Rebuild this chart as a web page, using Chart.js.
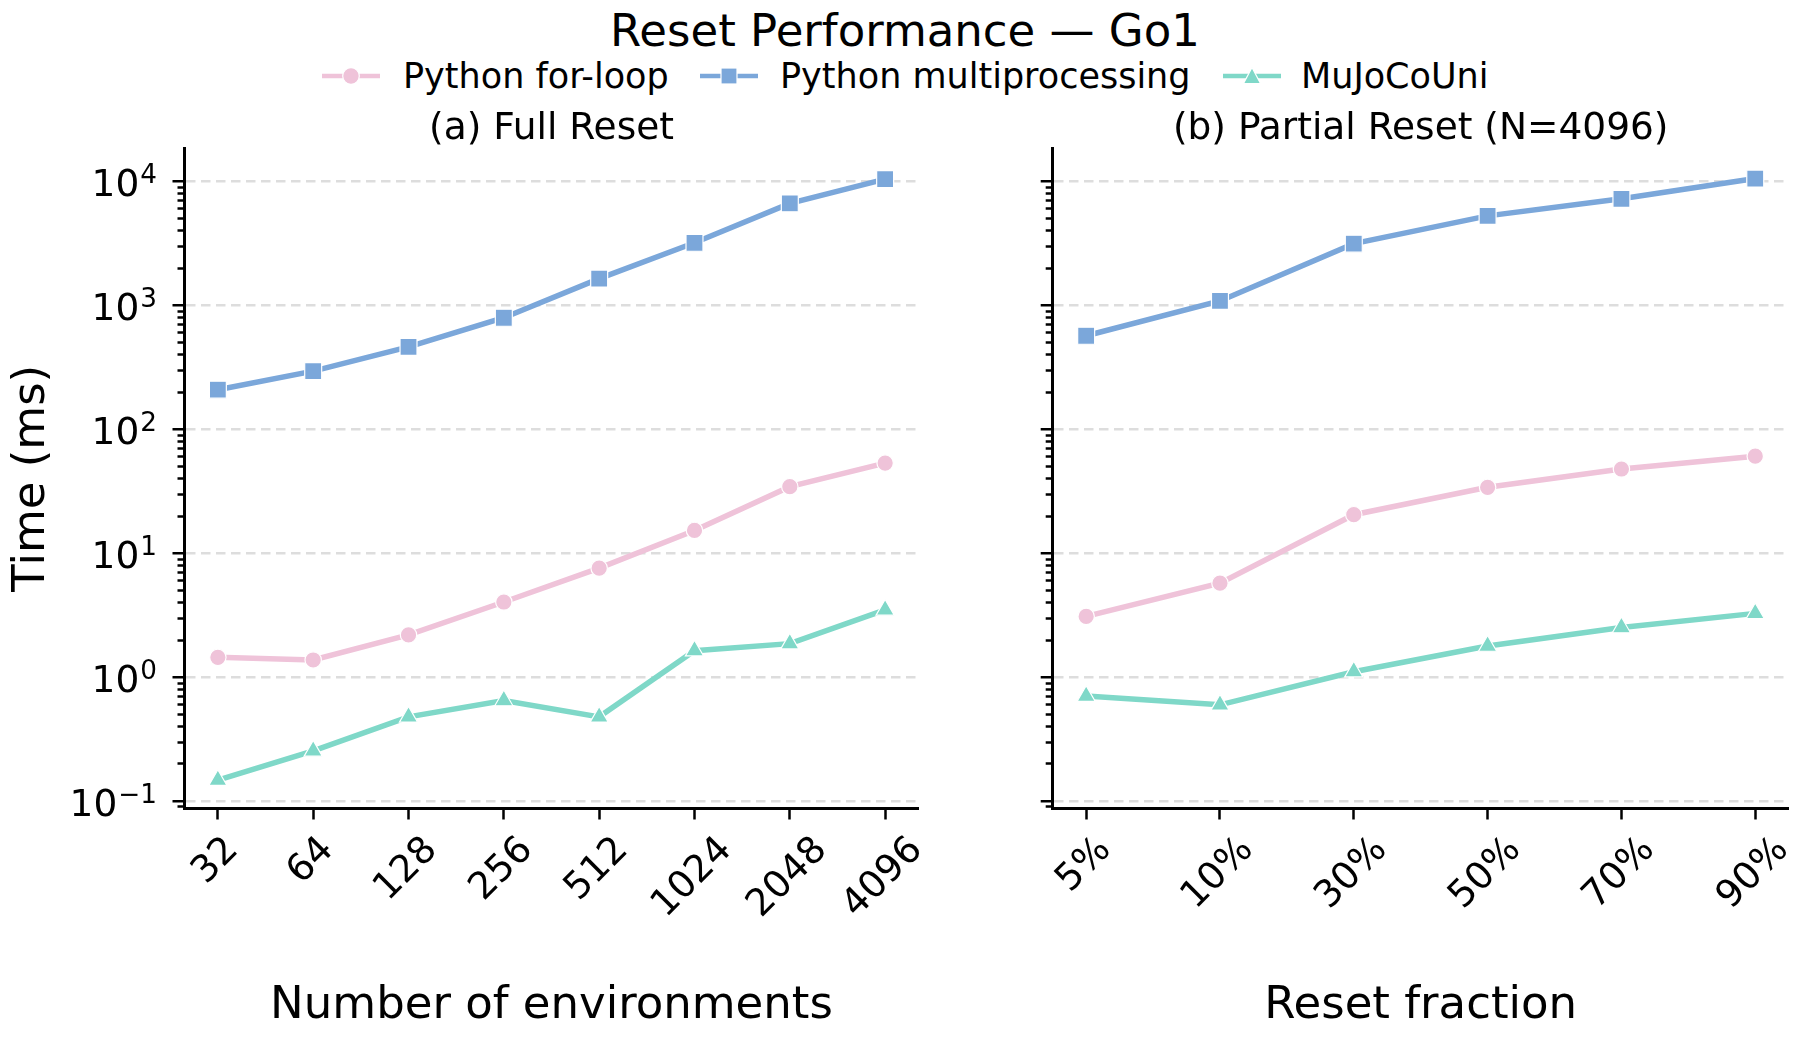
<!DOCTYPE html>
<html>
<head>
<meta charset="utf-8">
<script src="https://cdn.jsdelivr.net/npm/chart.js@4.4.1/dist/chart.umd.min.js"></script>
<style>
  body { margin: 0; background: #fff; width: 1810px; height: 1043px; position: relative; overflow: hidden; font-family: "DejaVu Sans", sans-serif; color: #000; }
  #suptitle { position: absolute; left: 0; top: 8px; width: 1810px; text-align: center; font-size: 45px; line-height: 45px; white-space: nowrap; }
  .leg-text { position: absolute; top: 59px; font-size: 35px; line-height: 35px; white-space: nowrap; }
  .leg-mark { position: absolute; top: 66px; }
  canvas { position: absolute; top: 0; }
</style>
</head>
<body>
<div id="suptitle">Reset Performance — Go1</div>
<div id="legend"></div>
<canvas id="fullChart" width="960" height="1043" style="left:0px"></canvas>
<canvas id="partialChart" width="850" height="1043" style="left:960px"></canvas>
<script>
const FONT = '"DejaVu Sans", sans-serif';

// categories
const envCounts = ['32', '64', '128', '256', '512', '1024', '2048', '4096'];
const resetFractions = ['5%', '10%', '30%', '50%', '70%', '90%'];

// series
const seriesNames = ['Python for-loop', 'Python multiprocessing', 'MuJoCoUni'];
const seriesColors = ['#efc3d9', '#7ba7da', '#7fd8c8'];
const seriesMarkers = ['circle', 'rect', 'triangle'];

// (a) full reset, time in ms
const fullForLoop = [1.45, 1.38, 2.2, 4.05, 7.6, 15.3, 34.5, 53.5];
const fullMultiproc = [209, 295, 463, 795, 1645, 3200, 6650, 10450];
const fullMuJoCoUni = [0.148, 0.255, 0.48, 0.65, 0.48, 1.64, 1.87, 3.5];

// (b) partial reset (N=4096), time in ms
const partialForLoop = [3.1, 5.75, 20.5, 34.1, 47.9, 60.8];
const partialMultiproc = [569, 1086, 3148, 5275, 7236, 10550];
const partialMuJoCoUni = [0.706, 0.60, 1.11, 1.79, 2.52, 3.28];

// y axis (log), labels drawn as 10^exp
const yMajorTicks = [0.1, 1, 10, 100, 1000, 10000];
const yTickExponents = ['−1', '0', '1', '2', '3', '4'];
const Y_MIN = 0.0875;
const Y_MAX = 18600;

const markerRadius = [8.2, 12, 10.5];

function minorTicks() {
    const out = [];
    for (let e = -2; e <= 4; e++) {
        for (let k = 2; k <= 9; k++) {
            const v = k * Math.pow(10, e);
            if (v >= Y_MIN && v <= Y_MAX) out.push({value: v});
        }
    }
    return out;
}

// matplotlib style tick labels: rotated x labels centred under the tick,
// y labels as 10 with a raised exponent
const mplTicks = {
    id: 'mplTicks',
    afterDraw(chart, args, opts) {
        const ctx = chart.ctx;
        const xs = chart.scales.x;
        ctx.save();
        ctx.fillStyle = '#000';
        ctx.font = opts.size + 'px ' + FONT;
        ctx.textAlign = 'center';
        ctx.textBaseline = 'middle';
        opts.labels.forEach((label, i) => {
            const w = ctx.measureText(label).width;
            const half = (w + opts.size) * Math.SQRT1_2 / 2;
            const x = xs.getPixelForValue(i) + opts.shift;
            const y = xs.top + opts.offset + half;
            ctx.save();
            ctx.translate(x, y);
            ctx.rotate(-Math.PI / 4);
            ctx.fillText(label, 0, 0);
            ctx.restore();
        });

        if (opts.yLabels) {
            const ys = chart.scales.y;
            const right = ys.right - 27.5;
            const supSize = opts.size * 0.7;
            ctx.textAlign = 'right';
            ctx.textBaseline = 'alphabetic';
            yMajorTicks.forEach((v, i) => {
                const y = ys.getPixelForValue(v);
                ctx.font = supSize + 'px ' + FONT;
                const ew = ctx.measureText(yTickExponents[i]).width;
                ctx.fillText(yTickExponents[i], right, y + 2);
                ctx.font = opts.size + 'px ' + FONT;
                ctx.fillText('10', right - ew - 1, y + 14.7);
            });
        }
        ctx.restore();
    }
};

function makePanel(canvasId, title, xTitle, labels, values, showYLabels, yAxisWidth, padRight) {
    const datasets = values.map((vals, s) => ({
        label: seriesNames[s],
        data: vals.map((v, i) => ({x: i, y: v})),
        borderColor: seriesColors[s],
        backgroundColor: seriesColors[s],
        borderWidth: 5.5,
        pointStyle: seriesMarkers[s],
        pointRadius: markerRadius[s],
        pointBackgroundColor: seriesColors[s],
        pointBorderColor: '#ffffff',
        pointBorderWidth: 1.2,
        tension: 0
    }));
    const margin = (labels.length - 1) * 0.05;

    return new Chart(document.getElementById(canvasId), {
        type: 'line',
        data: { datasets },
        options: {
            responsive: false,
            animation: false,
            devicePixelRatio: 1,
            layout: { padding: { left: 0, right: padRight, top: 110.5, bottom: 0 } },
            plugins: {
                legend: { display: false },
                tooltip: { enabled: false },
                title: {
                    display: true, text: title, fullSize: false, color: '#000',
                    font: { family: FONT, size: 37.5, weight: 'normal', lineHeight: 1 },
                    padding: { top: 0, bottom: 0 }
                },
                mplTicks: { labels: labels, size: 37.5, offset: 22.5, shift: -2, yLabels: showYLabels }
            },
            scales: {
                x: {
                    type: 'linear', min: -margin, max: labels.length - 1 + margin, bounds: 'data',
                    afterBuildTicks: s => { s.ticks = labels.map((l, i) => ({value: i})); },
                    afterFit: s => { s.height = 234.5; },
                    ticks: { display: false },
                    grid: { display: true, drawOnChartArea: false, drawTicks: true, tickLength: 11, tickWidth: 2.5, tickColor: '#000' },
                    border: { display: true, color: '#000', width: 3 },
                    title: {
                        display: true, text: xTitle, color: '#000',
                        font: { family: FONT, size: 45, lineHeight: 1 },
                        padding: { top: 0, bottom: 14.5 }
                    }
                },
                y: {
                    type: 'logarithmic', position: 'left', weight: 1, min: Y_MIN, max: Y_MAX, bounds: 'data',
                    afterBuildTicks: s => { s.ticks = yMajorTicks.map(v => ({value: v})); },
                    afterFit: s => { s.width = yAxisWidth; },
                    ticks: { display: false },
                    grid: { display: true, drawOnChartArea: true, color: '#dddddd', lineWidth: 2.5, drawTicks: true, tickLength: 12, tickWidth: 2.5, tickColor: '#000' },
                    border: { display: true, color: '#000', width: 3, dash: [9.5, 5.5] },
                    title: {
                        display: showYLabels, text: 'Time (ms)', color: '#000',
                        font: { family: FONT, size: 45, lineHeight: 1 },
                        padding: { top: 10, bottom: 0 }
                    }
                },
                yMinor: {
                    type: 'logarithmic', position: 'left', weight: 0, min: Y_MIN, max: Y_MAX, bounds: 'data',
                    afterBuildTicks: s => { s.ticks = minorTicks(); },
                    afterFit: s => { s.width = 0; },
                    ticks: { display: false },
                    grid: { display: true, drawOnChartArea: false, drawTicks: true, tickLength: 7, tickWidth: 2.5, tickColor: '#000' },
                    border: { display: false }
                }
            }
        },
        plugins: [mplTicks]
    });
}

function legendMarker(color, style) {
    let shape;
    if (style === 'circle') {
        shape = `<circle cx="29" cy="10" r="8.3" fill="${color}" stroke="#fff" stroke-width="1.2"/>`;
    } else if (style === 'rect') {
        shape = `<rect x="21" y="2" width="16" height="16" fill="${color}" stroke="#fff" stroke-width="1.2"/>`;
    } else {
        shape = `<polygon points="29,1.5 37.5,17.5 20.5,17.5" fill="${color}" stroke="#fff" stroke-width="1.2"/>`;
    }
    return `<svg width="58" height="20"><line x1="0" y1="10" x2="58" y2="10" stroke="${color}" stroke-width="4.5"/>${shape}</svg>`;
}

function buildLegend() {
    const markLeft = [322, 700, 1223];
    const textLeft = [403, 780, 1301];
    const legend = document.getElementById('legend');
    seriesNames.forEach((name, s) => {
        legend.innerHTML += `<div class="leg-mark" style="left:${markLeft[s]}px">${legendMarker(seriesColors[s], seriesMarkers[s])}</div>`;
        legend.innerHTML += `<div class="leg-text" style="left:${textLeft[s]}px">${name}</div>`;
    });
}

buildLegend();
makePanel('fullChart', '(a) Full Reset', 'Number of environments', envCounts,
    [fullForLoop, fullMultiproc, fullMuJoCoUni], true, 184.5, 41.5);
makePanel('partialChart', '(b) Partial Reset (N=4096)', 'Reset fraction', resetFractions,
    [partialForLoop, partialMultiproc, partialMuJoCoUni], false, 92.7, 21.3);
</script>
</body>
</html>
